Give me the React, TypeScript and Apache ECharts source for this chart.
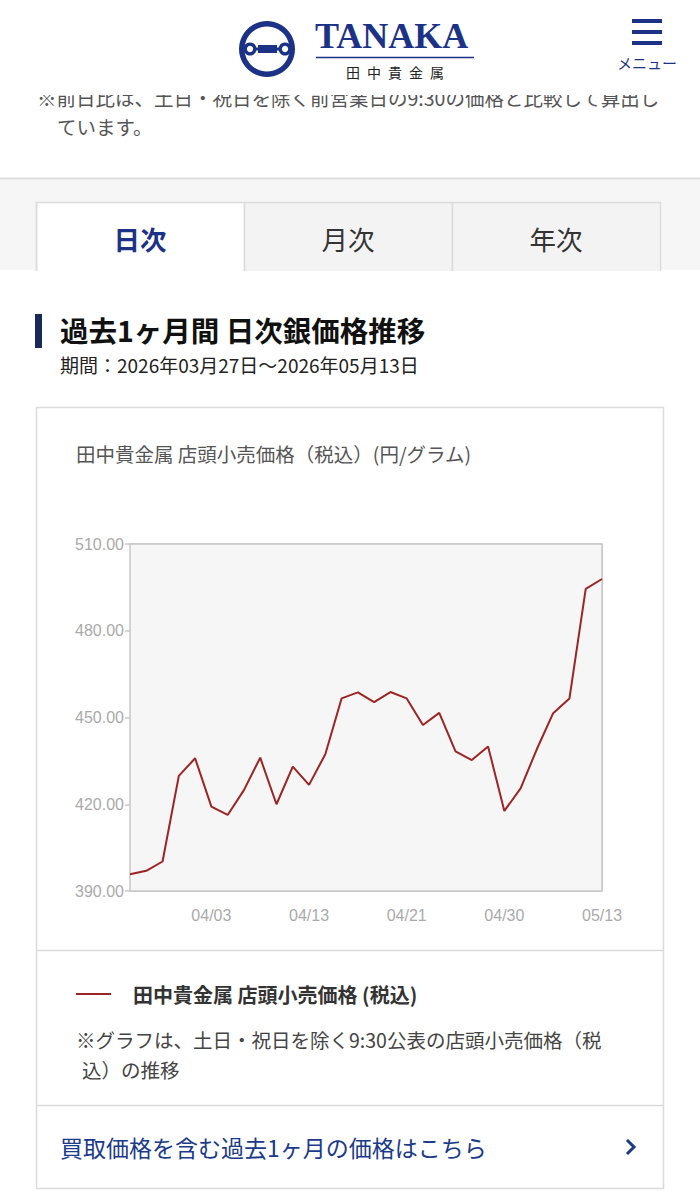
import React, { useEffect, useRef } from "react";
import * as echarts from "echarts";

const dates = [
  "03/27", "03/30", "03/31", "04/01", "04/02", "04/03",
  "04/06", "04/07", "04/08", "04/09", "04/10", "04/13",
  "04/14", "04/15", "04/16", "04/17", "04/20", "04/21",
  "04/22", "04/23", "04/24", "04/27", "04/28", "04/30",
  "05/01", "05/07", "05/08", "05/11", "05/12", "05/13",
];
const prices = [
  395.8, 397.0, 400.2, 429.8, 435.9, 419.2,
  416.3, 424.9, 436.1, 420.0, 433.0, 426.7,
  437.3, 456.6, 458.7, 455.3, 458.8, 456.6,
  447.4, 451.6, 438.3, 435.3, 440.0, 417.7,
  425.5, 439.1, 451.5, 456.6, 494.5, 497.9,
];
const labelDates = ["04/03", "04/13", "04/21", "04/30", "05/13"];
const yMin = 390;
const yMax = 510;
const yStep = 30;

const seriesName = "田中貴金属 店頭小売価格 (税込)";
const chartTitle = "田中貴金属 店頭小売価格（税込）(円/グラム)";
const tabs = ["日次", "月次", "年次"];

const JP = "'Noto Sans CJK JP', 'Noto Sans', sans-serif";
const NUM = "'Liberation Sans', Arial, sans-serif";
const NAVY = "#1c3287";

export default function App() {
  const ref = useRef<HTMLDivElement>(null);
  useEffect(() => {
    if (!ref.current) return;
    const chart = echarts.init(ref.current, null, { renderer: "svg" });
    const showIdx = (i: number) => labelDates.indexOf(dates[i]) >= 0;

    const g: any[] = [];
    // page backgrounds
    g.push({ type: "rect", shape: { x: 0, y: 0, width: 700, height: 1200 }, style: { fill: "#ffffff" }, z: 0 });
    g.push({ type: "rect", shape: { x: 0, y: 178, width: 700, height: 92 }, style: { fill: "#f6f6f6" }, z: 1 });
    g.push({ type: "line", shape: { x1: 0, y1: 178.5, x2: 700, y2: 178.5 }, style: { stroke: "#dddddd", lineWidth: 2 }, z: 2 });

    // clipped note text
    g.push({ type: "text", x: 37, y: 97, style: { text: "※前日比は、土日・祝日を除く前営業日の9:30の価格と比較して算出し", font: `19.5px ${JP}`, fill: "#555", verticalAlign: "middle" }, z: 2 });
    g.push({ type: "text", x: 57, y: 126, style: { text: "ています。", font: `19.5px ${JP}`, fill: "#555", verticalAlign: "middle" }, z: 2 });

    // header (covers top of note)
    g.push({ type: "rect", shape: { x: 0, y: 0, width: 700, height: 95 }, style: { fill: "#ffffff" }, z: 5 });
    // logo
    g.push({ type: "ring", shape: { cx: 267, cy: 49, r: 28, r0: 22.5 }, style: { fill: NAVY }, z: 6 });
    g.push({ type: "line", shape: { x1: 241, y1: 49, x2: 293, y2: 49 }, style: { stroke: NAVY, lineWidth: 3 }, z: 6 });
    g.push({ type: "rect", shape: { x: 258, y: 45, width: 19, height: 8 }, style: { fill: NAVY }, z: 6 });
    g.push({ type: "circle", shape: { cx: 250, cy: 49, r: 6.5 }, style: { fill: NAVY }, z: 6 });
    g.push({ type: "circle", shape: { cx: 285, cy: 49, r: 6.5 }, style: { fill: NAVY }, z: 6 });
    g.push({ type: "circle", shape: { cx: 250, cy: 49, r: 3.2 }, style: { fill: "#fff" }, z: 7 });
    g.push({ type: "circle", shape: { cx: 285, cy: 49, r: 3.2 }, style: { fill: "#fff" }, z: 7 });
    g.push({ type: "text", x: 315, y: 54, style: { text: "TANAKA", font: "bold 36px 'Liberation Serif', serif", fill: NAVY, verticalAlign: "bottom" }, z: 6 });
    g.push({ type: "line", shape: { x1: 316, y1: 57.5, x2: 474, y2: 57.5 }, style: { stroke: NAVY, lineWidth: 1.5 }, z: 6 });
    "田中貴金属".split("").forEach((ch, i) => {
      g.push({ type: "text", x: 353 + i * 21, y: 72, style: { text: ch, font: `14px ${JP}`, fill: "#222", align: "center", verticalAlign: "middle" }, z: 6 });
    });
    // menu
    [21, 32, 43].forEach((yy) => {
      g.push({ type: "rect", shape: { x: 632, y: yy - 2, width: 30, height: 4 }, style: { fill: NAVY }, z: 6 });
    });
    g.push({ type: "text", x: 647, y: 62, style: { text: "メニュー", font: `15px ${JP}`, fill: NAVY, align: "center", verticalAlign: "middle" }, z: 6 });

    // tabs
    tabs.forEach((t, i) => {
      const x = 36 + i * 208;
      g.push({ type: "rect", shape: { x: x + 0.5, y: 202.5, width: 208, height: 70 }, style: { fill: i === 0 ? "#ffffff" : "#f3f3f3", stroke: "#dcdcdc", lineWidth: 1.5 }, z: 3 });
      g.push({ type: "text", x: x + 104, y: 238, style: { text: t, font: `${i === 0 ? "bold " : ""}26.5px ${JP}`, fill: i === 0 ? NAVY : "#333", align: "center", verticalAlign: "middle" }, z: 4 });
    });
    g.push({ type: "rect", shape: { x: 0, y: 271, width: 700, height: 10 }, style: { fill: "#ffffff" }, z: 4 });
    g.push({ type: "line", shape: { x1: 36.5, y1: 202, x2: 36.5, y2: 271 }, style: { stroke: "#dcdcdc", lineWidth: 1.5 }, z: 4 });

    // section title
    g.push({ type: "rect", shape: { x: 35, y: 314, width: 7, height: 34 }, style: { fill: "#1a2a58" }, z: 3 });
    g.push({ type: "text", x: 60, y: 329, style: { text: "過去1ヶ月間 日次銀価格推移", font: `bold 28.5px ${JP}`, fill: "#111", verticalAlign: "middle", lineHeight: 29 }, z: 3 });
    g.push({ type: "text", x: 60, y: 364, style: { text: "期間：2026年03月27日〜2026年05月13日", font: `19px ${JP}`, fill: "#222", verticalAlign: "middle", lineHeight: 19 }, z: 3 });

    // card
    g.push({ type: "rect", shape: { x: 36.5, y: 407.5, width: 627, height: 781 }, style: { fill: "none", stroke: "#dcdcdc", lineWidth: 1.5 }, z: 3 });
    g.push({ type: "line", shape: { x1: 36, y1: 950.5, x2: 664, y2: 950.5 }, style: { stroke: "#dcdcdc", lineWidth: 1.5 }, z: 3 });
    g.push({ type: "line", shape: { x1: 36, y1: 1105.5, x2: 664, y2: 1105.5 }, style: { stroke: "#dcdcdc", lineWidth: 1.5 }, z: 3 });
    g.push({ type: "text", x: 76, y: 453, style: { text: chartTitle, font: `19.5px ${JP}`, fill: "#555", verticalAlign: "middle" }, z: 3 });

    // notes and link
    g.push({ type: "text", x: 76, y: 1039, style: { text: "※グラフは、土日・祝日を除く9:30公表の店頭小売価格（税", font: `19.5px ${JP}`, fill: "#444", verticalAlign: "middle" }, z: 3 });
    g.push({ type: "text", x: 82, y: 1069, style: { text: "込）の推移", font: `19.5px ${JP}`, fill: "#444", verticalAlign: "middle" }, z: 3 });
    g.push({ type: "text", x: 60, y: 1147, style: { text: "買取価格を含む過去1ヶ月の価格はこちら", font: `23px ${JP}`, fill: "#1a3a8a", verticalAlign: "middle" }, z: 3 });
    g.push({ type: "polyline", shape: { points: [[627, 1140], [634, 1147], [627, 1154]] }, style: { stroke: "#1a3a8a", lineWidth: 3, fill: "none" }, z: 3 });

    chart.setOption({
      animation: false,
      backgroundColor: "transparent",
      graphic: { elements: g },
      legend: {
        left: 71,
        top: 979,
        itemWidth: 35,
        itemHeight: 2,
        itemGap: 20,
        icon: "rect",
        data: [seriesName],
        textStyle: { fontFamily: JP, fontSize: 20, color: "#333", fontWeight: "bold", padding: [0, 0, 0, 17] },
      },
      grid: {
        left: 130,
        right: 98,
        top: 544,
        bottom: 309,
        show: true,
        backgroundColor: "#f6f6f6",
        borderColor: "#c8c8c8",
        borderWidth: 1.5,
        z: 10,
      },
      xAxis: {
        type: "category",
        data: dates,
        boundaryGap: false,
        axisLine: { show: false },
        axisTick: { show: false },
        axisLabel: {
          interval: (i: number) => showIdx(i),
          color: "#aaaaaa",
          fontFamily: NUM,
          fontSize: 16,
          margin: 16,
        },
        splitLine: { show: true, interval: (i: number) => showIdx(i), lineStyle: { color: "#c8c8c8", width: 1.5 } },
      },
      yAxis: {
        type: "value",
        min: yMin,
        max: yMax,
        interval: yStep,
        axisLine: { show: false },
        axisTick: { show: true, length: 5, lineStyle: { color: "#c8c8c8", width: 1.5 } },
        axisLabel: {
          formatter: (v: number) => v.toFixed(2),
          color: "#aaaaaa",
          fontFamily: NUM,
          fontSize: 16,
          margin: 6,
        },
        splitLine: { show: true, lineStyle: { color: "#c8c8c8", width: 1.5 } },
      },
      series: [
        {
          name: seriesName,
          type: "line",
          data: prices,
          showSymbol: false,
          symbol: "none",
          lineStyle: { color: "#9e2424", width: 2 },
          itemStyle: { color: "#9e2424" },
          z: 12,
        },
      ],
    });
    return () => chart.dispose();
  }, []);
  return <div ref={ref} style={{ position: "absolute", left: 0, top: 0, width: 700, height: 1200 }} />;
}
